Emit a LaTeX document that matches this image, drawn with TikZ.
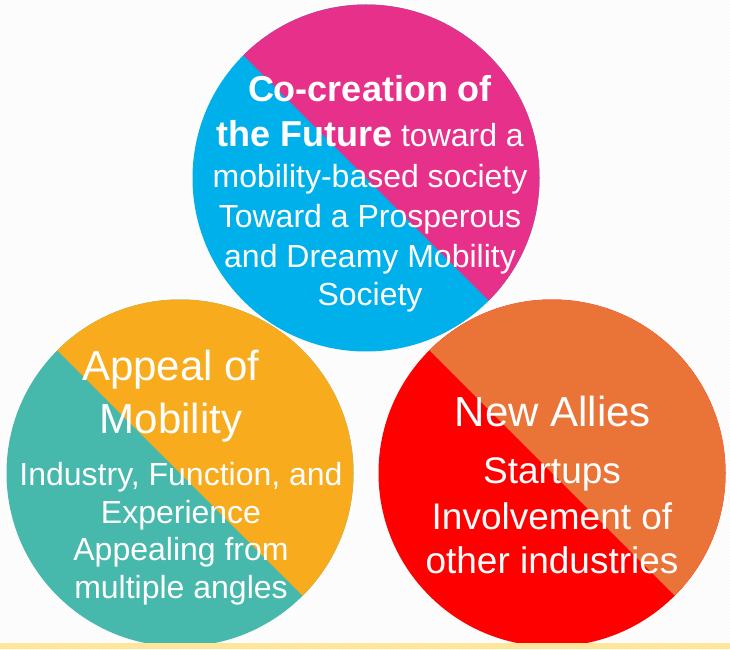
\documentclass[tikz,border=0pt]{standalone}
\usepackage{fontspec}
\setmainfont{Liberation Sans}
\usetikzlibrary{calc,patterns}

\definecolor{cpink}{HTML}{E6308A}
\definecolor{cblue}{HTML}{00B0EA}
\definecolor{corange}{HTML}{F8AB1C}
\definecolor{cteal}{HTML}{47B8AC}
\definecolor{crust}{HTML}{EA7337}
\definecolor{cred}{HTML}{FF0000}
\definecolor{cband}{HTML}{FFE699}

\begin{document}
\begin{tikzpicture}[x=1pt,y=1pt,
  disc/.style 2 args={circle,inner sep=0pt,minimum size=347pt,fill=#2,
    path picture={\fill[#1] (path picture bounding box.north west)
      -- (path picture bounding box.north east)
      -- (path picture bounding box.south east) -- cycle;}},
  txt/.style={anchor=base,text=white,inner sep=0pt,font=\fontsize{32}{38}\selectfont}]

% Background
\fill[white] (0,0) rectangle (730,649);
\fill[pattern=north west lines,pattern color=black!2] (0,0) rectangle (730,649);
\useasboundingbox (0,0) rectangle (730,649);

% Circles (top one last)
\foreach \n/\x/\y/\ca/\cb in {mob/180/176/corange/cteal, ally/552/176/crust/cred, fut/366/471/cpink/cblue} {
  \node[disc={\ca}{\cb}] (\n) at (\x,\y) {};
}

% Top texts
\foreach \dy/\t [count=\i] in {
    76/{\fontsize{36}{40}\selectfont\bfseries Co-creation of},
    31/{{\fontsize{36}{40}\selectfont\bfseries the Future} toward a},
    -10/{mobility-based society},
    -50/{Toward a Prosperous},
    -89/{and Dreamy Mobility},
    -127/{Society}} {
  \node[txt] (fut-\i) at ($(fut)+(4,\dy)$) {\t};
}

% Left texts
\node[txt,font=\fontsize{42}{48}\selectfont] (mob-h1) at ($(mob)+(-9,93)$) {Appeal of};
\node[txt,font=\fontsize{42}{48}\selectfont] (mob-h2) at ($(mob)+(-9,40)$) {Mobility};
\foreach \dy/\t [count=\i] in {
    -12/{Industry, Function, and},
    -50/{Experience},
    -87/{Appealing from},
    -125/{multiple angles}} {
  \node[txt] (mob-\i) at ($(mob)+(1,\dy)$) {\t};
}

% Right texts
\node[txt,font=\fontsize{42}{48}\selectfont] (ally-h) at ($(ally)+(1,47)$) {New Allies};
\foreach \dy/\t [count=\i] in {
    -10/{Startups},
    -56/{Involvement of},
    -100/{other industries}} {
  \node[txt,font=\fontsize{37}{44}\selectfont] (ally-\i) at ($(ally)+(0,\dy)$) {\t};
}

% Bottom band
\fill[cband] (0,0) rectangle (730,6);

\end{tikzpicture}
\end{document}
